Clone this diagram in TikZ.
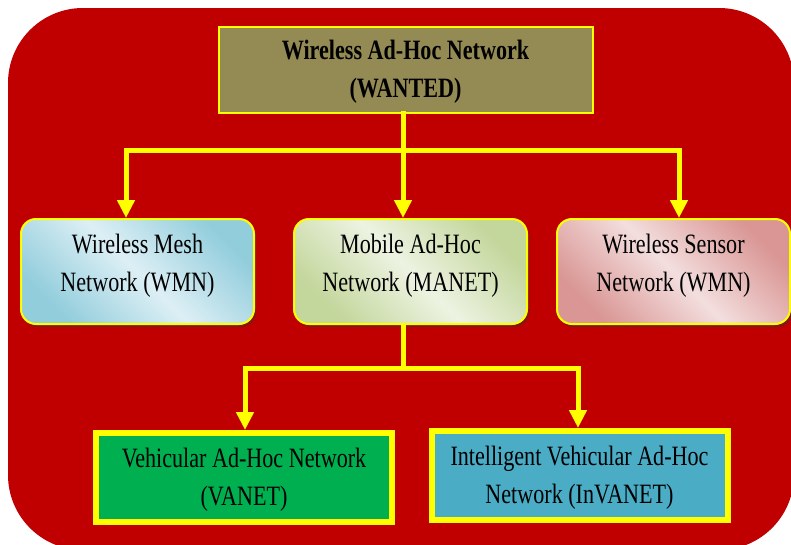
\documentclass[tikz,border=0pt]{standalone}
\usepackage{fontspec}
\newfontfamily\tnr[FakeStretch=0.79]{Liberation Serif}
\usetikzlibrary{arrows.meta,shadows}

\definecolor{bgred}{HTML}{C00000}
\definecolor{olive}{HTML}{948A54}
\definecolor{ylw}{HTML}{FFFF00}
\definecolor{shd}{HTML}{7A1A12}
\definecolor{wmnDark}{HTML}{92CDDC}
\definecolor{wmnLight}{HTML}{DDEFF5}
\definecolor{manetDark}{HTML}{C3D69B}
\definecolor{manetLight}{HTML}{EDF3E2}
\definecolor{wsnDark}{HTML}{D99694}
\definecolor{wsnLight}{HTML}{F3DEDE}
\definecolor{vanetGreen}{HTML}{00B050}
\definecolor{invanetBlue}{HTML}{4BACC6}

\begin{document}
\begin{tikzpicture}[x=1pt,y=-1pt,
  boxtext/.style={align=center,text=black,inner sep=0pt,
    font=\tnr\fontsize{28}{38}\selectfont},
  boldtext/.style={boxtext,font=\tnr\bfseries\fontsize{28}{38}\selectfont},
  topbox/.style={fill=olive,draw=ylw,line width=2pt,
    minimum width=374pt,minimum height=86pt},
  midbox/.style={draw=ylw,line width=2pt,rounded corners=15pt,
    minimum width=233pt,minimum height=105pt,
    drop shadow={shadow xshift=2pt,shadow yshift=-3pt,fill=shd,opacity=1}},
  gradfill/.style 2 args={top color=#1,bottom color=#1,middle color=#2,
    shading angle=-45},
  lowbox/.style={draw=ylw,line width=6pt,
    minimum width=296pt,minimum height=89pt,
    drop shadow={shadow xshift=2pt,shadow yshift=-3pt,fill=shd,opacity=1}},
  conn/.style={draw=ylw,line width=5pt,line join=miter},
  arr/.style={conn,-{Triangle[length=18pt,width=17pt]}}
]
\useasboundingbox (0,0) rectangle (791,544);
\clip (0,0) rectangle (791,544);

% page and red rounded panel
\fill[white] (0,0) rectangle (791,544);
\fill[bgred,rounded corners=75pt] (8,8) rectangle (794,550);

% top level
\node[topbox] (top) at (405.5,69.5) {};
\node[boldtext] (topT) at ([yshift=-2pt]top.center)
  {Wireless Ad-Hoc Network\\(WANTED)};

% second level
\node[midbox,gradfill={wmnDark}{wmnLight}] (wmn) at (137.5,271.5) {};
\node[midbox,gradfill={manetDark}{manetLight}] (manet) at (410.5,271.5) {};
\node[midbox,gradfill={wsnDark}{wsnLight}] (wsn) at (673.5,271.5) {};
\node[boxtext] (wmnT) at ([yshift=6pt]wmn.center) {Wireless Mesh\\Network (WMN)};
\node[boxtext] (manetT) at ([yshift=6pt]manet.center) {Mobile Ad-Hoc\\Network (MANET)};
\node[boxtext] (wsnT) at ([yshift=6pt]wsn.center) {Wireless Sensor\\Network (WMN)};

% third level
\node[lowbox,fill=vanetGreen] (vanet) at (244,477.5) {};
\node[lowbox,fill=invanetBlue] (invanet) at (579.5,475.5) {};
\node[boxtext] (vanetT) at ([yshift=-2pt]vanet.center)
  {Vehicular Ad-Hoc Network\\(VANET)};
\node[boxtext] (invanetT) at ([yshift=-2pt]invanet.center)
  {Intelligent Vehicular Ad-Hoc\\Network (InVANET)};

% connector positions
\coordinate (j1) at (403,150);
\coordinate (a1) at (126,150);
\coordinate (a3) at (679,150);
\coordinate (j2) at (403,368);
\coordinate (b1) at (245,368);
\coordinate (b2) at (578,368);

% connectors from the top box
\draw[conn,line cap=rect] (top.south -| j1) -- (j1);
\draw[arr] (j1) -| (a1 |- wmn.north);
\draw[arr] (j1) -| (a3 |- wsn.north);
\draw[arr] (j1) -- (j1 |- manet.north);

% connectors from MANET
\draw[conn,line cap=rect] (manet.south -| j2) -- (j2);
\draw[arr] (j2) -| (b1 |- vanet.north);
\draw[arr] (j2) -| (b2 |- invanet.north);
\end{tikzpicture}
\end{document}
